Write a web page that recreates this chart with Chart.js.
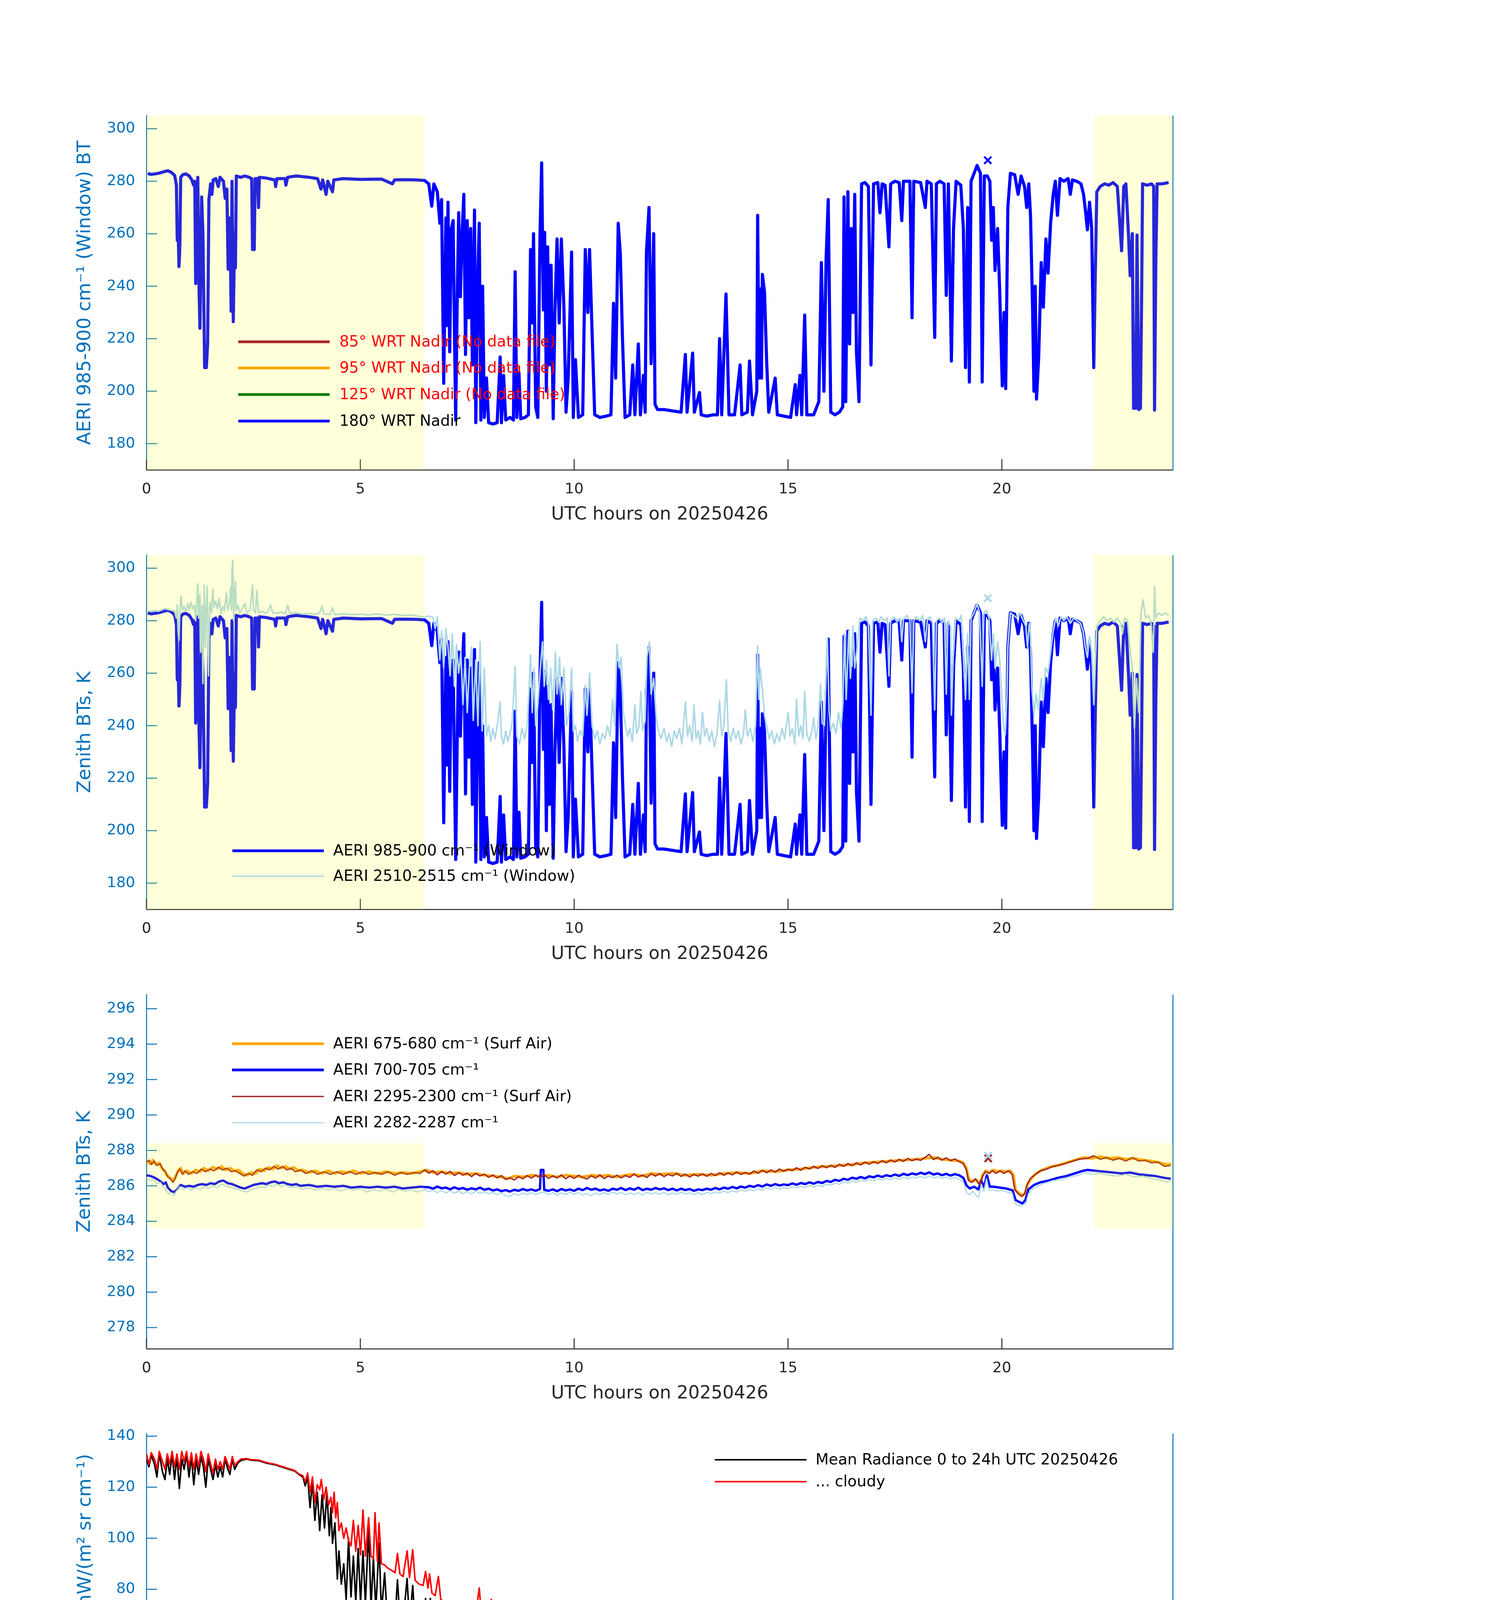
<!DOCTYPE html>
<html>
<head>
    <style>
        body {
            margin: 0;
            background: #ffffff;
        }

        #page {
            position: relative;
            width: 3825px;
            height: 6000px;
            background: #ffffff;
            overflow: hidden;
        }

        #page canvas {
            position: absolute;
            left: 0;
        }
    </style>
    <script src="https://cdn.jsdelivr.net/npm/chart.js"></script>
</head>
<body>
    <div id="page">
        <canvas id="p1"></canvas>
        <canvas id="p2"></canvas>
        <canvas id="p3"></canvas>
        <canvas id="p4"></canvas>
        <canvas id="p5"></canvas>
    </div>

    <script>
        // ---- values ----
        const hourTicks = [0, 5, 10, 15, 20];
        const btTicksWide = [180, 200, 220, 240, 260, 280, 300];
        const btTicksNarrow = [278, 280, 282, 284, 286, 288, 290, 292, 294, 296];
        const radTicksLow = [20, 40, 60, 80, 100, 120, 140];
        const wnTicksLow = [600, 800, 1000, 1200, 1400, 1600, 1800];
        const radTicksHigh = [0, 1, 2, 3, 4, 5, 6, 7, 8, 9];
        const wnTicksHigh = [1800, 2000, 2200, 2400, 2600, 2800, 3000];

        // night-time shading (UTC hours) and the band used in the third panel
        const shadeHours = [[0, 6.5], [22.15, 24]];
        const shadeBT = [283.6, 288.4];

        // AERI 985-900 cm-1 window BT, [hour, K]
        const bt985 = [
            [0.03,283.0],[0.1,282.6],[0.2,282.8],[0.3,283.1],[0.4,283.6],[0.5,284.0],[0.58,283.4],[0.66,282.2],
            [0.7,278.5],[0.72,257.5],[0.74,262],[0.76,247.5],[0.78,255],[0.8,281.5],[0.85,282.5],[0.92,282.8],
            [1.0,282.0],[1.06,280.5],[1.1,278.5],[1.13,280],[1.15,241],[1.18,250],[1.2,281.5],[1.22,246],
            [1.25,224],[1.27,250],[1.29,274],[1.32,260],[1.36,209],[1.4,209],[1.43,218],[1.46,273],[1.5,279],
            [1.53,275],[1.56,280.5],[1.62,281],[1.68,278],[1.72,281.5],[1.8,280],[1.84,273.5],[1.88,277],
            [1.91,246.5],[1.95,266],[1.98,230.5],[2.0,280],[2.03,226.5],[2.06,260],[2.08,247],[2.1,282],
            [2.2,281.5],[2.3,282],[2.4,281.5],[2.46,281],[2.48,254],[2.52,254],[2.54,281],[2.6,281],[2.62,270],
            [2.64,281.5],[2.8,281.2],[3.0,280.5],[3.02,278],[3.05,281],[3.24,281],[3.26,278.5],[3.3,281.5],
            [3.5,282],[3.8,281.5],[4.0,281],[4.08,277],[4.12,280.5],[4.2,275],[4.24,280],[4.35,276],[4.38,280.5],
            [4.6,281],[5.0,280.7],[5.5,280.8],[5.75,279],[5.8,280.5],[6.0,280.6],[6.3,280.5],[6.5,280.3],
            [6.6,279],[6.67,270.5],[6.72,279],[6.8,276],[6.86,264],[6.9,273],[6.95,203],[7.0,266],[7.02,225],
            [7.05,272],[7.09,215],[7.13,262],[7.17,265],[7.2,224],[7.23,189],[7.27,240],[7.3,268],[7.34,236],
            [7.38,260],[7.42,275],[7.46,214],[7.5,265],[7.54,228],[7.58,262],[7.62,210],[7.67,269],[7.7,188],
            [7.74,238],[7.78,264],[7.82,189],[7.86,240],[7.9,190],[7.95,205],[8.0,188],[8.1,187.5],[8.2,188],
            [8.27,213],[8.3,188],[8.35,206],[8.4,189],[8.5,190],[8.58,189],[8.62,245.5],[8.66,190],[8.71,207],
            [8.75,189.5],[8.85,190],[8.93,191],[8.98,254],[9.02,226],[9.05,260],[9.1,194],[9.15,190],
            [9.2,258.5],[9.24,287],[9.28,231],[9.31,260.5],[9.35,200],[9.38,255],[9.42,210],[9.46,248],
            [9.51,189.5],[9.55,230],[9.6,258],[9.65,226],[9.7,258],[9.76,232],[9.81,192],[9.86,205],[9.94,253],
            [9.98,190],[10.03,212],[10.1,190],[10.2,191],[10.26,254],[10.32,230],[10.36,254],[10.42,222],
            [10.48,191],[10.6,190],[10.75,190.5],[10.86,191],[10.92,233.5],[10.97,205],[11.03,264],[11.08,252],
            [11.13,220],[11.19,190],[11.3,191],[11.37,210],[11.42,191],[11.5,218],[11.55,191],[11.62,206],
            [11.66,192],[11.69,253],[11.75,270],[11.8,210.5],[11.86,260],[11.89,195],[11.95,193],[12.1,193],
            [12.3,192.5],[12.5,192],[12.6,214],[12.64,192],[12.77,214.5],[12.81,192],[12.93,199.5],[12.97,191],
            [13.1,190.5],[13.25,191],[13.35,191],[13.4,220],[13.45,191],[13.55,237],[13.58,218],[13.62,191],
            [13.75,191],[13.88,210],[13.92,191],[14.05,192],[14.1,211.5],[14.17,191],[14.27,200],[14.29,267],
            [14.32,205],[14.34,239],[14.38,205],[14.4,244.5],[14.45,238],[14.5,211.5],[14.55,192],[14.7,205],
            [14.75,191],[14.9,190.5],[15.06,190],[15.17,202.5],[15.2,191],[15.28,206],[15.32,191],[15.39,229],
            [15.44,191],[15.6,191],[15.72,196],[15.78,249],[15.84,200],[15.89,250],[15.94,273],[16.0,192],
            [16.1,191],[16.2,192],[16.28,194],[16.31,274],[16.35,196],[16.4,276],[16.44,218],[16.48,262],
            [16.52,230],[16.56,275],[16.6,215],[16.66,196],[16.72,279],[16.8,279.5],[16.88,278],[16.94,210],
            [17.0,279],[17.1,279.5],[17.15,268],[17.2,279],[17.27,278.5],[17.36,255],[17.4,279],[17.5,280],
            [17.6,279.5],[17.66,265],[17.7,280],[17.85,280],[17.9,228],[17.94,280],[18.1,279.5],[18.21,270],
            [18.25,280],[18.35,279],[18.43,220.5],[18.47,279],[18.55,280],[18.65,279],[18.7,236.5],[18.75,279],
            [18.82,211.5],[18.87,262],[18.93,280],[19.04,278.5],[19.1,262],[19.15,209],[19.2,270],[19.24,203.5],
            [19.28,280],[19.35,283],[19.42,286],[19.5,283],[19.54,203.5],[19.59,282],[19.66,282],[19.72,280],
            [19.76,257.5],[19.8,270],[19.84,246],[19.9,262],[19.95,238],[20.01,202],[20.05,230],[20.09,201],
            [20.14,270],[20.2,283],[20.3,282.5],[20.38,275],[20.45,282],[20.53,278],[20.58,270],[20.63,279],
            [20.67,267],[20.72,230],[20.75,200],[20.78,240],[20.81,197],[20.86,212.5],[20.92,249],[20.97,232],
            [21.03,258],[21.08,245],[21.14,264],[21.2,275],[21.25,280],[21.3,267],[21.36,281],[21.45,280],
            [21.55,281],[21.6,275],[21.65,280.5],[21.75,280],[21.85,279],[21.91,275],[21.96,268],[22.0,261.5],
            [22.05,272],[22.1,262],[22.15,209],[22.18,240],[22.22,276],[22.3,278],[22.4,279],[22.5,278.5],
            [22.6,279.5],[22.7,278],[22.8,253.5],[22.85,278],[22.9,279],[22.96,260],[23.0,244],[23.05,260],
            [23.08,193.5],[23.13,193.5],[23.16,259.5],[23.2,193],[23.24,193.5],[23.27,240],[23.29,279],
            [23.4,278.5],[23.5,279],[23.55,278],[23.57,192.8],[23.6,250],[23.63,279],[23.75,279],[23.9,279.5]
        ];

        // AERI 2510-2515 cm-1 window BT, [hour, K]
        const bt2510 = [
            [0.03,283.8],[0.12,283.5],[0.2,283.9],[0.28,283.6],[0.36,284.1],[0.44,284.6],[0.52,284.2],[0.6,283.9],
            [0.66,283.5],[0.7,281],[0.72,286],[0.74,276],[0.76,272.5],[0.78,284],[0.81,289.5],[0.84,284],
            [0.88,285.5],[0.92,283.5],[0.97,286.5],[1.0,284],[1.04,287],[1.08,284.5],[1.12,286],[1.15,280],
            [1.18,288],[1.2,294],[1.22,281],[1.25,290],[1.27,268],[1.3,286],[1.32,256],[1.35,293.5],[1.38,270],
            [1.4,285],[1.42,293],[1.45,259],[1.48,287],[1.52,283],[1.55,292],[1.58,285],[1.62,287.5],
            [1.66,284.5],[1.7,288.5],[1.74,282.5],[1.78,285.5],[1.82,283.5],[1.87,290.5],[1.9,284],[1.94,286.5],
            [1.97,293],[1.99,284],[2.0,299.5],[2.02,303],[2.04,280],[2.06,289],[2.08,295],[2.1,284],[2.14,286],
            [2.18,283],[2.24,284.5],[2.3,286.5],[2.35,283],[2.42,284],[2.48,293.5],[2.5,284],[2.55,283],
            [2.58,291.5],[2.62,283],[2.7,283.5],[2.8,282.8],[2.86,284],[2.9,286],[2.95,283],[3.05,282.8],
            [3.15,283.3],[3.25,282.6],[3.3,286],[3.35,282.8],[3.5,283],[3.65,282.5],[3.8,282.8],[3.95,282.4],
            [4.05,283],[4.1,285.5],[4.15,282.5],[4.3,282.4],[4.35,285],[4.4,282.3],[4.6,282.6],[4.8,282.3],
            [5.0,282.5],[5.2,282.2],[5.4,282.6],[5.6,282.1],[5.8,282.4],[6.0,282],[6.2,282.2],[6.4,281.6],
            [6.5,281.3],[6.6,281.8],[6.7,281.2],[6.75,277],[6.8,281.5],[6.86,265],[6.9,276],[6.95,262],[7.0,277],
            [7.05,270],[7.1,259],[7.15,275],[7.2,255],[7.25,271],[7.3,260],[7.35,268],[7.4,248],[7.45,266],
            [7.5,245],[7.55,262],[7.6,270],[7.64,242],[7.7,265],[7.75,240],[7.8,272],[7.85,238],[7.9,262],
            [7.95,236],[8.0,240],[8.05,234],[8.1,239],[8.15,235],[8.2,240],[8.27,249],[8.3,236],[8.35,233],
            [8.4,238],[8.45,234],[8.5,237],[8.55,241],[8.62,262.5],[8.66,236],[8.72,233],[8.78,239],[8.84,235],
            [8.9,240],[8.94,252],[8.98,267],[9.02,245],[9.06,262],[9.1,240],[9.15,248],[9.2,260],[9.26,272],
            [9.3,255],[9.35,265],[9.4,250],[9.45,262],[9.5,246],[9.56,268],[9.6,252],[9.66,266],[9.7,248],
            [9.76,262],[9.82,240],[9.88,245],[9.94,262],[9.98,238],[10.03,240],[10.08,234],[10.14,238],
            [10.2,236],[10.26,255.5],[10.3,244],[10.36,260],[10.42,240],[10.48,235],[10.54,238],[10.6,233],
            [10.66,237],[10.72,235],[10.78,240],[10.84,236],[10.9,250],[10.95,240],[11.0,271],[11.05,262],
            [11.1,266],[11.15,245],[11.2,240],[11.25,236],[11.3,239],[11.36,234],[11.42,248],[11.46,237],
            [11.52,240],[11.56,253],[11.6,238],[11.66,242],[11.7,266],[11.76,272],[11.8,252],[11.86,258],
            [11.92,243],[11.97,238],[12.03,235],[12.1,239],[12.16,234],[12.22,237],[12.28,232],[12.34,238],
            [12.4,235],[12.46,239],[12.52,233],[12.6,249],[12.65,236],[12.7,240],[12.76,234],[12.8,248],
            [12.85,235],[12.9,238],[12.95,233],[13.0,245],[13.05,236],[13.1,239],[13.16,234],[13.22,238],
            [13.28,232],[13.34,237],[13.4,249.5],[13.45,236],[13.5,240],[13.56,257.5],[13.6,238],[13.66,234],
            [13.72,239],[13.78,235],[13.84,238],[13.9,233],[13.96,237],[14.0,246],[14.05,236],[14.12,239],
            [14.18,234],[14.24,240],[14.29,270.5],[14.32,250],[14.35,262],[14.4,254],[14.45,244],[14.5,240],
            [14.56,235],[14.62,238],[14.68,233],[14.74,237],[14.8,234],[14.86,239],[14.92,235],[15.0,245],
            [15.05,236],[15.1,239],[15.16,233],[15.2,250],[15.25,236],[15.3,240],[15.35,235],[15.39,253],
            [15.44,237],[15.5,234],[15.56,238],[15.6,243],[15.65,235],[15.7,239],[15.76,256],[15.8,241],
            [15.85,240],[15.92,273.5],[15.96,246],[16.0,238],[16.06,241],[16.12,237],[16.18,245],[16.24,239],
            [16.28,248],[16.32,275],[16.36,250],[16.42,276],[16.46,258],[16.52,278],[16.56,262],[16.62,270],
            [16.68,281],[16.75,280],[16.82,281.5],[16.88,279],[16.94,244],[16.98,280],[17.05,281],[17.12,279.5],
            [17.18,281.5],[17.25,280],[17.32,281],[17.36,259],[17.4,280],[17.48,281.5],[17.55,279.5],[17.62,281],
            [17.66,272],[17.7,280.5],[17.78,282],[17.85,280],[17.9,252.5],[17.94,280],[18.0,281.5],[18.08,280],
            [18.15,282],[18.21,272],[18.26,280.5],[18.32,281.5],[18.38,279],[18.43,246],[18.47,280],[18.54,281],
            [18.6,279],[18.66,281],[18.7,252],[18.74,280],[18.8,278],[18.82,244],[18.86,265],[18.92,281],
            [19.0,280],[19.05,282],[19.1,266],[19.15,250],[19.2,275],[19.24,250],[19.28,281],[19.35,283],
            [19.42,286.5],[19.48,283],[19.54,255],[19.58,283],[19.64,284],[19.7,281],[19.76,265],[19.8,275],
            [19.84,262],[19.9,272],[19.95,265],[20.0,250],[20.04,240],[20.08,236.5],[20.12,252],[20.14,270],
            [20.2,283],[20.28,282],[20.35,281],[20.42,283],[20.5,280],[20.56,278],[20.6,270],[20.64,279],
            [20.67,275],[20.7,255],[20.75,244],[20.8,252],[20.86,246],[20.92,258],[20.97,250],[21.02,262],
            [21.08,260],[21.14,268],[21.2,276],[21.26,281],[21.32,278],[21.38,281.5],[21.45,280],[21.52,281.5],
            [21.6,279],[21.68,281],[21.76,280],[21.84,279],[21.9,276],[21.95,270],[22.0,266],[22.05,274],
            [22.1,268],[22.15,248],[22.18,262],[22.22,278],[22.3,280],[22.38,281.5],[22.46,280],[22.54,281],
            [22.62,279.5],[22.7,281],[22.78,279],[22.82,275],[22.87,281],[22.94,280],[23.0,268],[23.05,262],
            [23.1,239],[23.15,258],[23.2,245],[23.25,282],[23.3,288],[23.36,281],[23.42,282],[23.48,280],
            [23.54,268],[23.57,293],[23.6,281],[23.66,283],[23.74,282],[23.82,283],[23.9,282]
        ];

        // flagged samples drawn as x markers
        const flag985 = [[19.67, 288.0]];
        const flag2510 = [[19.67, 288.6]];
        const flag2295 = [[19.68, 287.55]];
        const flag2282 = [[19.68, 287.7]];

        // AERI 675-680 cm-1 (surface air), [hour, K]
        const bt675 = [
            [0,287.4],[0.08,287.25],[0.15,287.45],[0.22,287.2],[0.3,287.3],[0.36,287.0],[0.42,286.85],[0.48,286.6],
            [0.55,286.45],[0.62,286.3],[0.68,286.5],[0.74,286.85],[0.8,287.0],[0.86,286.7],[0.95,286.85],
            [1.05,286.7],[1.15,286.9],[1.25,286.8],[1.35,287.0],[1.45,286.85],[1.55,287.05],[1.65,286.95],
            [1.75,287.1],[1.85,286.9],[1.95,287.0],[2.05,286.85],[2.15,286.9],[2.25,286.7],[2.35,286.6],
            [2.45,286.75],[2.55,286.7],[2.65,286.95],[2.75,286.85],[2.85,287.05],[2.95,286.95],[3.05,287.15],
            [3.15,287.0],[3.25,287.1],[3.35,286.95],[3.45,287.05],[3.55,286.85],[3.65,286.9],[3.8,286.75],
            [3.95,286.85],[4.1,286.7],[4.25,286.85],[4.4,286.7],[4.55,286.8],[4.7,286.75],[4.85,286.85],
            [5.0,286.7],[5.2,286.8],[5.4,286.7],[5.6,286.8],[5.8,286.7],[6.0,286.75],[6.2,286.7],[6.4,286.8],
            [6.55,286.9],[6.7,286.75],[6.9,286.8],[7.1,286.7],[7.3,286.75],[7.5,286.65],[7.7,286.7],[7.9,286.6],
            [8.1,286.55],[8.3,286.5],[8.45,286.4],[8.6,286.55],[8.8,286.5],[9.0,286.6],[9.2,286.55],[9.4,286.6],
            [9.6,286.5],[9.8,286.6],[10.0,286.55],[10.2,286.5],[10.4,286.6],[10.6,286.55],[10.8,286.6],
            [11.0,286.5],[11.2,286.6],[11.4,286.65],[11.6,286.55],[11.8,286.7],[12.0,286.65],[12.3,286.7],
            [12.6,286.6],[12.9,286.65],[13.2,286.6],[13.5,286.7],[13.8,286.75],[14.1,286.7],[14.4,286.85],
            [14.7,286.8],[15.0,286.9],[15.3,286.95],[15.6,287.05],[15.9,287.1],[16.2,287.15],[16.5,287.2],
            [16.8,287.3],[17.1,287.35],[17.4,287.4],[17.7,287.45],[18.0,287.5],[18.2,287.55],[18.4,287.6],
            [18.6,287.5],[18.8,287.45],[19.0,287.4],[19.1,287.3],[19.17,287.0],[19.22,286.4],[19.3,286.25],
            [19.4,286.35],[19.48,286.1],[19.55,286.6],[19.62,286.85],[19.7,286.75],[19.8,286.9],[19.9,286.8],
            [20.0,286.85],[20.1,286.8],[20.2,286.85],[20.27,286.6],[20.32,285.75],[20.4,285.6],[20.48,285.45],
            [20.55,285.6],[20.6,286.1],[20.7,286.45],[20.8,286.7],[20.95,286.9],[21.1,287.05],[21.3,287.15],
            [21.5,287.3],[21.7,287.45],[21.9,287.6],[22.1,287.55],[22.3,287.65],[22.5,287.55],[22.7,287.6],
            [22.9,287.5],[23.1,287.55],[23.3,287.45],[23.5,287.4],[23.7,287.3],[23.85,287.2],[23.95,287.25]
        ];

        // AERI 700-705 cm-1, [hour, K]
        const bt700 = [
            [0,286.6],[0.1,286.55],[0.2,286.45],[0.3,286.3],[0.4,286.1],[0.45,286.2],[0.5,285.9],[0.58,285.7],
            [0.65,285.65],[0.72,285.8],[0.8,286.05],[0.9,285.95],[1.0,286.0],[1.1,285.95],[1.2,286.05],[1.3,286.1],
            [1.4,286.05],[1.5,286.15],[1.6,286.1],[1.7,286.25],[1.8,286.3],[1.9,286.15],[2.0,286.1],[2.1,286.0],
            [2.2,285.9],[2.3,285.85],[2.4,285.95],[2.5,286.05],[2.6,286.1],[2.7,286.15],[2.8,286.1],[2.9,286.2],
            [3.0,286.25],[3.1,286.15],[3.2,286.2],[3.3,286.1],[3.4,286.05],[3.5,286.1],[3.6,286.0],[3.8,286.05],
            [4.0,285.95],[4.2,286.0],[4.4,285.95],[4.6,286.0],[4.8,285.9],[5.0,285.95],[5.2,285.9],[5.4,285.95],
            [5.6,285.9],[5.8,285.95],[6.0,285.85],[6.2,285.9],[6.4,285.95],[6.6,285.92],[6.7,285.84],[6.8,285.96],
            [6.9,285.86],[7.0,285.9],[7.1,285.8],[7.2,285.92],[7.3,285.82],[7.4,285.88],[7.5,285.78],[7.6,285.86],
            [7.7,285.8],[7.8,285.9],[7.9,285.78],[8.0,285.84],[8.1,285.74],[8.2,285.8],[8.3,285.7],[8.4,285.76],
            [8.5,285.68],[8.6,285.78],[8.7,285.72],[8.8,285.82],[8.9,285.74],[9.0,285.8],[9.1,285.72],[9.2,285.82],
            [9.22,286.9],[9.28,286.9],[9.3,285.78],[9.4,285.72],[9.5,285.8],[9.6,285.7],[9.7,285.82],[9.8,285.74],
            [9.9,285.8],[10.0,285.72],[10.1,285.84],[10.2,285.76],[10.3,285.88],[10.4,285.78],[10.5,285.84],
            [10.6,285.74],[10.7,285.8],[10.8,285.72],[10.9,285.84],[11.0,285.78],[11.1,285.88],[11.2,285.76],
            [11.3,285.86],[11.4,285.78],[11.5,285.9],[11.6,285.76],[11.7,285.84],[11.8,285.78],[11.9,285.88],
            [12.0,285.8],[12.1,285.86],[12.2,285.76],[12.3,285.84],[12.4,285.74],[12.5,285.84],[12.6,285.76],
            [12.7,285.82],[12.8,285.72],[12.9,285.8],[13.0,285.76],[13.1,285.84],[13.2,285.78],[13.3,285.88],
            [13.4,285.8],[13.5,285.9],[13.6,285.84],[13.7,285.94],[13.8,285.86],[13.9,285.96],[14.0,285.9],
            [14.1,286.0],[14.2,285.94],[14.3,286.04],[14.4,285.96],[14.5,286.08],[14.6,286.0],[14.7,286.1],
            [14.8,286.02],[14.9,286.08],[15.0,286.04],[15.1,286.14],[15.2,286.06],[15.3,286.16],[15.4,286.1],
            [15.5,286.2],[15.6,286.12],[15.7,286.22],[15.8,286.16],[15.9,286.28],[16.0,286.22],[16.1,286.34],
            [16.2,286.28],[16.3,286.4],[16.4,286.34],[16.5,286.46],[16.6,286.4],[16.7,286.5],[16.8,286.42],
            [16.9,286.54],[17.0,286.48],[17.1,286.58],[17.2,286.5],[17.3,286.6],[17.4,286.54],[17.5,286.64],
            [17.6,286.56],[17.7,286.68],[17.8,286.6],[17.9,286.7],[18.0,286.64],[18.1,286.74],[18.2,286.66],
            [18.3,286.76],[18.4,286.64],[18.5,286.7],[18.6,286.6],[18.7,286.68],[18.8,286.58],[18.9,286.66],
            [19.0,286.6],[19.1,286.45],[19.18,286.0],[19.25,285.85],[19.35,285.95],[19.45,285.8],[19.52,286.3],
            [19.58,285.9],[19.65,286.6],[19.72,285.95],[19.8,285.95],[19.95,285.9],[20.1,285.85],[20.25,285.75],
            [20.32,285.2],[20.4,285.1],[20.48,285.0],[20.55,285.2],[20.62,285.8],[20.75,286.05],[20.9,286.2],
            [21.1,286.3],[21.3,286.45],[21.5,286.55],[21.7,286.7],[21.9,286.85],[22.0,286.9],[22.2,286.85],
            [22.4,286.8],[22.6,286.75],[22.8,286.7],[23.0,286.75],[23.2,286.65],[23.4,286.6],[23.6,286.55],
            [23.8,286.45],[23.95,286.4]
        ];

        // AERI 2295-2300 cm-1 (surface air), [hour, K]
        const bt2295 = [
            [0,287.35],[0.06,287.45],[0.12,287.2],[0.18,287.4],[0.25,287.15],[0.32,287.25],[0.38,286.95],[0.44,286.8],
            [0.5,286.5],[0.56,286.4],[0.62,286.2],[0.66,286.35],[0.72,286.75],[0.78,286.95],[0.84,286.65],
            [0.9,286.85],[0.98,286.65],[1.08,286.8],[1.18,286.7],[1.28,286.95],[1.38,286.8],[1.48,286.95],
            [1.58,286.85],[1.68,287.05],[1.78,286.9],[1.88,287.0],[1.98,286.8],[2.08,286.85],[2.18,286.7],
            [2.28,286.55],[2.38,286.7],[2.48,286.6],[2.58,286.9],[2.68,286.8],[2.78,287.0],[2.88,286.9],
            [2.98,287.1],[3.08,286.95],[3.18,287.1],[3.28,286.9],[3.38,287.0],[3.48,286.8],[3.6,286.9],
            [3.72,286.7],[3.86,286.85],[4.0,286.65],[4.15,286.8],[4.3,286.65],[4.45,286.8],[4.6,286.65],
            [4.75,286.8],[4.9,286.65],[5.05,286.8],[5.2,286.65],[5.35,286.75],[5.5,286.65],[5.65,286.8],
            [5.8,286.6],[5.95,286.75],[6.1,286.65],[6.25,286.75],[6.4,286.7],[6.5,286.9],[6.6,286.72],
            [6.7,286.85],[6.8,286.62],[6.9,286.8],[7.0,286.66],[7.1,286.82],[7.2,286.58],[7.3,286.74],[7.4,286.6],
            [7.5,286.72],[7.6,286.52],[7.7,286.7],[7.8,286.56],[7.9,286.66],[8.0,286.48],[8.1,286.62],[8.2,286.45],
            [8.3,286.58],[8.4,286.36],[8.5,286.46],[8.6,286.33],[8.7,286.52],[8.8,286.4],[8.9,286.58],[9.0,286.44],
            [9.1,286.6],[9.2,286.46],[9.3,286.63],[9.4,286.42],[9.5,286.56],[9.6,286.45],[9.7,286.62],[9.8,286.4],
            [9.9,286.55],[10.0,286.42],[10.1,286.6],[10.2,286.47],[10.3,286.38],[10.4,286.57],[10.5,286.44],
            [10.6,286.62],[10.7,286.41],[10.8,286.55],[10.9,286.46],[11.0,286.6],[11.1,286.45],[11.2,286.58],
            [11.3,286.48],[11.4,286.66],[11.5,286.5],[11.6,286.62],[11.7,286.47],[11.8,286.68],[11.9,286.55],
            [12.0,286.7],[12.1,286.52],[12.2,286.65],[12.3,286.56],[12.4,286.72],[12.5,286.53],[12.6,286.66],
            [12.7,286.5],[12.8,286.64],[12.9,286.55],[13.0,286.68],[13.1,286.54],[13.2,286.7],[13.3,286.58],
            [13.4,286.74],[13.5,286.6],[13.6,286.72],[13.7,286.62],[13.8,286.78],[13.9,286.64],[14.0,286.76],
            [14.1,286.66],[14.2,286.84],[14.3,286.7],[14.4,286.88],[14.5,286.74],[14.6,286.9],[14.7,286.78],
            [14.8,286.95],[14.9,286.82],[15.0,286.94],[15.1,286.86],[15.2,287.02],[15.3,286.88],[15.4,287.05],
            [15.5,286.95],[15.6,287.1],[15.7,286.98],[15.8,287.14],[15.9,287.02],[16.0,287.16],[16.1,287.04],
            [16.2,287.22],[16.3,287.1],[16.4,287.26],[16.5,287.14],[16.6,287.3],[16.7,287.18],[16.8,287.34],
            [16.9,287.22],[17.0,287.36],[17.1,287.26],[17.2,287.42],[17.3,287.3],[17.4,287.46],[17.5,287.35],
            [17.6,287.5],[17.7,287.38],[17.8,287.55],[17.9,287.42],[18.0,287.52],[18.1,287.44],[18.2,287.6],
            [18.3,287.78],[18.4,287.48],[18.5,287.62],[18.6,287.45],[18.7,287.58],[18.8,287.42],[18.9,287.52],
            [19.0,287.38],[19.1,287.25],[19.17,286.9],[19.22,286.3],[19.3,286.2],[19.38,286.4],[19.45,286.15],
            [19.5,286.05],[19.55,286.55],[19.62,286.8],[19.7,286.7],[19.78,286.85],[19.86,286.7],[19.95,286.85],
            [20.05,286.7],[20.15,286.85],[20.24,286.65],[20.3,285.8],[20.38,285.55],[20.46,285.4],[20.53,285.55],
            [20.58,286.0],[20.66,286.4],[20.76,286.6],[20.9,286.85],[21.05,286.95],[21.2,287.1],[21.4,287.2],
            [21.6,287.35],[21.8,287.5],[22.0,287.55],[22.15,287.7],[22.3,287.5],[22.45,287.6],[22.6,287.45],
            [22.75,287.55],[22.9,287.4],[23.05,287.6],[23.2,287.4],[23.35,287.45],[23.5,287.3],[23.65,287.35],
            [23.8,287.1],[23.95,287.15]
        ];

        // AERI 2282-2287 cm-1, [hour, K]
        const bt2282 = [
            [0,286.45],[0.08,286.3],[0.16,286.35],[0.24,286.1],[0.32,286.2],[0.4,285.95],[0.46,285.75],[0.52,285.55],
            [0.58,285.6],[0.64,285.45],[0.7,285.7],[0.78,285.95],[0.86,285.8],[0.95,285.9],[1.05,285.75],
            [1.15,285.9],[1.25,285.8],[1.35,285.95],[1.45,285.85],[1.55,286.0],[1.65,285.9],[1.75,286.1],
            [1.85,286.0],[1.95,285.95],[2.05,285.85],[2.15,285.8],[2.25,285.7],[2.35,285.65],[2.45,285.8],
            [2.55,285.85],[2.65,285.95],[2.75,285.9],[2.85,286.05],[2.95,285.95],[3.05,286.1],[3.15,285.95],
            [3.25,286.05],[3.35,285.9],[3.5,285.95],[3.65,285.8],[3.8,285.9],[3.95,285.75],[4.1,285.85],
            [4.25,285.75],[4.4,285.85],[4.55,285.7],[4.7,285.85],[4.85,285.75],[5.0,285.85],[5.15,285.65],
            [5.3,285.8],[5.45,285.7],[5.6,285.8],[5.75,285.65],[5.9,285.8],[6.05,285.7],[6.2,285.75],
            [6.35,285.65],[6.5,285.8],[6.6,285.66],[6.7,285.76],[6.8,285.62],[6.9,285.74],[7.0,285.6],[7.1,285.72],
            [7.2,285.58],[7.3,285.7],[7.4,285.56],[7.5,285.68],[7.6,285.54],[7.7,285.7],[7.8,285.58],[7.9,285.66],
            [8.0,285.54],[8.1,285.64],[8.2,285.5],[8.3,285.62],[8.4,285.44],[8.5,285.4],[8.6,285.56],[8.7,285.46],
            [8.8,285.6],[8.9,285.5],[9.0,285.62],[9.1,285.5],[9.2,285.6],[9.3,285.66],[9.4,285.5],[9.5,285.62],
            [9.6,285.48],[9.7,285.6],[9.8,285.5],[9.9,285.64],[10.0,285.52],[10.1,285.62],[10.2,285.48],
            [10.3,285.58],[10.4,285.44],[10.5,285.6],[10.6,285.5],[10.7,285.62],[10.8,285.52],[10.9,285.64],
            [11.0,285.54],[11.1,285.64],[11.2,285.5],[11.3,285.6],[11.4,285.5],[11.5,285.62],[11.6,285.48],
            [11.7,285.64],[11.8,285.54],[11.9,285.62],[12.0,285.52],[12.1,285.64],[12.2,285.5],[12.3,285.6],
            [12.4,285.52],[12.5,285.64],[12.6,285.54],[12.7,285.6],[12.8,285.5],[12.9,285.62],[13.0,285.5],
            [13.1,285.64],[13.2,285.56],[13.3,285.66],[13.4,285.58],[13.5,285.7],[13.6,285.62],[13.7,285.72],
            [13.8,285.64],[13.9,285.76],[14.0,285.7],[14.1,285.8],[14.2,285.72],[14.3,285.84],[14.4,285.76],
            [14.5,285.88],[14.6,285.8],[14.7,285.9],[14.8,285.82],[14.9,285.92],[15.0,285.84],[15.1,285.96],
            [15.2,285.88],[15.3,285.98],[15.4,285.9],[15.5,286.02],[15.6,285.94],[15.7,286.04],[15.8,285.96],
            [15.9,286.1],[16.0,286.04],[16.1,286.16],[16.2,286.08],[16.3,286.22],[16.4,286.16],[16.5,286.28],
            [16.6,286.2],[16.7,286.32],[16.8,286.26],[16.9,286.36],[17.0,286.28],[17.1,286.4],[17.2,286.32],
            [17.3,286.42],[17.4,286.34],[17.5,286.46],[17.6,286.38],[17.7,286.48],[17.8,286.4],[17.9,286.5],
            [18.0,286.44],[18.1,286.54],[18.2,286.44],[18.3,286.56],[18.4,286.46],[18.5,286.52],[18.6,286.42],
            [18.7,286.5],[18.8,286.4],[18.9,286.48],[19.0,286.4],[19.1,286.2],[19.18,285.6],[19.25,285.5],
            [19.32,285.7],[19.4,285.45],[19.46,285.35],[19.52,286.1],[19.58,285.7],[19.64,286.4],[19.7,285.75],
            [19.78,285.8],[19.88,285.7],[20.0,285.75],[20.12,285.65],[20.24,285.6],[20.3,285.05],[20.36,284.9],
            [20.44,284.85],[20.5,284.95],[20.56,285.0],[20.62,285.55],[20.72,285.85],[20.85,286.0],[21.0,286.15],
            [21.2,286.3],[21.4,286.35],[21.6,286.5],[21.8,286.6],[21.95,286.75],[22.1,286.65],[22.3,286.7],
            [22.5,286.6],[22.7,286.55],[22.9,286.65],[23.1,286.5],[23.3,286.55],[23.5,286.4],[23.7,286.35],
            [23.85,286.2],[23.95,286.3]
        ];

        // mean radiance 520-1800 cm-1, cloudy samples, [wavenumber, mW/(m2 sr cm-1)]
        const radCloudyLow = [
            [520,133],[523,129],[526,133.5],[530,131],[533,127],[536,134],[540,130],[543,127],[546,133],[549,129],
            [552,134],[555,128],[558,133],[561,127],[564,134],[567,130],[570,134],[573,128],[576,133.5],[579,127],
            [582,133],[585,128],[588,134],[591,131],[594,126],[597,133],[600,129],[603,125.5],[606,131],[609,127],
            [612,130],[615,127],[618,132],[621,129.5],[624,127],[627,132],[630,128.5],[634,130],[638,131],
            [645,131.2],[650,130.8],[660,130.6],[670,129.6],[680,129],[690,128],[700,127],[705,126.5],[710,125.2],
            [715,124.5],[718,122],[721,125.5],[724,118],[727,124],[730,114],[733,121],[736,119],[738,123],
            [741,115],[744,120],[747,113],[750,116],[752,110],[754,118],[756,108],[758,114],[760,103],[763,106],
            [766,100],[769,104],[772,99],[775,97],[778,107],[781,95],[784,105],[787,93.5],[790,111],[793,93],
            [797,108],[800,93],[803,92],[805,110],[808,91],[810,106],[813,90],[817,89.5],[820,88.5],[825,87.5],
            [830,86.5],[833,94],[836,86],[840,85],[845,95],[848,84.5],[852,95.5],[855,83.5],[860,82],[865,81.5],
            [868,87],[871,80.5],[873,86],[876,78.5],[880,77.5],[884,85],[887,76],[892,75],[899,74],[905,72.5],
            [912,71.5],[918,70.5],[923,70],[930,69],[935,80.5],[938,68],[944,67],[950,76],[953,66],[958,65.5],
            [962,73],[965,64.5],[970,64],[976,63],[982,62],[988,61],[993,60.5],[1000,65],[1003,59.5],[1010,58.8],
            [1015,65],[1018,58.2],[1025,57.5],[1032,56.8],[1039,56.3],[1045,55],[1050,54],[1055,53.5],[1062,53],
            [1065,61.5],[1068,52],[1075,59],[1078,50],[1086,48.7],[1092,48],[1097,57],[1100,47],[1103,57],
            [1106,46.5],[1110,57],[1114,46],[1120,54.6],[1124,44.5],[1132,43.5],[1135,56],[1138,43],[1145,42.5],
            [1150,54.4],[1153,42],[1160,41],[1165,50.3],[1168,40.5],[1175,53],[1178,40],[1185,52.8],[1188,39.5],
            [1195,48.7],[1199,38.5],[1207,47],[1210,37.5],[1215,48],[1218,37],[1225,47.6],[1228,36],[1233,35.8],
            [1238,40],[1242,36],[1245,43.9],[1250,37],[1255,39],[1260,42.8],[1263,38],[1268,41.5],[1272,36],
            [1276,39],[1280,36.3],[1285,35],[1290,38],[1295,35.5],[1300,37],[1305,35.8],[1310,37],[1317,36.3],
            [1322,33.5],[1328,35],[1334,32],[1340,33.1],[1345,32.5],[1350,32],[1355,31.5],[1360,32.5],
            [1365,31.6],[1373,31.5],[1380,30.8],[1390,30.2],[1396,29.9],[1405,29.2],[1412,28.8],[1419,28.3],
            [1430,27.3],[1438,26.6],[1440,28.8],[1442,26.3],[1450,25.6],[1465,24.6],[1480,23.8],[1489,23.4],
            [1500,22.5],[1515,21.5],[1530,20.6],[1536,20.2],[1537,27.8],[1538,20],[1545,19.6],[1560,18.5],
            [1574,17.3],[1575,24],[1576,17.1],[1583,17],[1600,15.7],[1615,15.1],[1629,14.3],[1648,13.5],
            [1650,19.7],[1652,13.4],[1660,13.2],[1676,12.7],[1690,12],[1699,11.6],[1700,17.5],[1701,11.5],
            [1705,17],[1706,11.4],[1715,11],[1721,10.7],[1722,15.3],[1723,10.6],[1740,9.9],[1755,9.4],
            [1769,8.9],[1785,8.6],[1800,8.3]
        ];

        // mean radiance 520-1800 cm-1, all samples (below 1345 cm-1; above it the curves coincide)
        const radAllLowHead = [
            [520,131],[523,128],[526,132.5],[530,129],[533,124],[536,133],[540,126],[543,123],[546,131],[549,125],
            [552,133],[555,123],[558,132],[561,119.5],[564,131],[567,127],[570,133],[573,124],[576,132],[579,121],
            [582,131],[585,125],[588,132],[591,128],[594,120],[597,131],[600,127],[603,123],[606,129],[609,124],
            [612,128],[615,124],[618,131],[621,127.5],[624,125],[627,131],[630,127],[634,129.5],[638,130.5],
            [645,131],[650,130.6],[660,130.4],[670,129.4],[680,128.8],[690,127.8],[700,126.8],[705,126.3],
            [710,125],[715,124],[718,120.5],[721,124],[724,112],[727,122],[730,107],[733,118],[736,103],[739,117],
            [742,104],[745,118],[748,101],[750,112],[752,98],[755,106],[758,84],[760,95],[763,82],[766,90],
            [769,76],[772,100],[775,77],[778,93],[781,75],[784,96],[787,74.5],[790,95],[793,74],[797,104],
            [800,73],[803,92],[806,72],[810,98],[813,71],[817,86.4],[820,70],[825,69],[830,68.5],[833,83.7],
            [836,68],[840,67.5],[845,84.2],[848,66.5],[852,81.5],[855,66],[860,65],[865,64.5],[868,76.4],[871,64],
            [874,76.4],[877,63],[880,62],[885,75.1],[888,61],[892,60],[899,59],[905,58],[912,57],[918,56.5],
            [925,55.5],[930,54.5],[935,71.3],[938,54],[944,53],[950,65.4],[953,52.5],[958,52],[962,63.8],[965,51],
            [970,50.5],[976,49],[982,48],[988,47],[993,46.5],[1000,45.5],[1005,45],[1010,45.3],[1015,45],
            [1020,57.3],[1023,45.5],[1027,46],[1030,52.5],[1033,46],[1040,45.5],[1045,46],[1048,43],[1052,44.5],
            [1055,41],[1060,42.5],[1065,47],[1068,38.5],[1072,37.5],[1075,49.8],[1078,36.5],[1085,35.5],[1090,35],
            [1097,48],[1100,34.5],[1103,47],[1106,34],[1110,47],[1114,33.5],[1120,45],[1124,33.2],[1130,33],
            [1135,44],[1138,32.8],[1145,32.6],[1150,45],[1153,32.5],[1160,31.5],[1165,42],[1168,31],[1175,43],
            [1178,30.5],[1185,48],[1188,30],[1195,44],[1199,29],[1207,46],[1210,27.5],[1215,41],[1218,27.2],
            [1225,46],[1228,28],[1233,26],[1236,25],[1240,28],[1245,33],[1250,29],[1255,36],[1258,30],[1262,35.8],
            [1266,31],[1270,33],[1275,30],[1280,37],[1285,31],[1290,35],[1295,32],[1300,33.5],[1305,31],[1310,34],
            [1317,33],[1322,29],[1328,33],[1332,29.5],[1336,31.5],[1340,33]
        ];
        const radAllLow = radAllLowHead.concat(radCloudyLow.filter(p => p[0] >= 1345));

        // mean radiance 1800-3020 cm-1, cloudy samples
        const radCloudyHigh = [
            [1800,8.6],[1802,8.3],[1805,8.03],[1808,8.2],[1810,8.15],[1813,7.55],[1816,7.9],[1818,7.92],[1820,7.4],
            [1823,7.6],[1825,7.73],[1828,7.7],[1830,7.62],[1833,7.5],[1836,7.24],[1840,7.31],[1843,7.2],[1845,7.13],
            [1848,7.28],[1850,7.24],[1853,6.9],[1855,6.56],[1858,6.41],[1860,6.6],[1862,6.86],[1864,6.5],[1866,6.33],
            [1868,6.6],[1870,6.71],[1873,6.6],[1875,6.48],[1878,6.1],[1880,5.8],[1883,6.0],[1885,6.18],[1888,5.58],
            [1890,5.9],[1892,6.26],[1894,6.0],[1896,5.8],[1898,5.9],[1900,6.03],[1903,5.6],[1905,5.2],[1908,5.5],
            [1910,5.73],[1913,5.5],[1915,5.27],[1918,5.4],[1920,5.54],[1923,5.3],[1925,5.12],[1928,4.85],[1930,4.67],
            [1932,5.0],[1935,5.2],[1938,4.8],[1940,4.52],[1943,4.9],[1945,5.12],[1948,4.8],[1950,4.6],[1953,4.75],
            [1955,4.9],[1958,4.5],[1960,4.29],[1963,4.55],[1965,4.74],[1968,4.45],[1970,4.29],[1973,3.9],[1975,3.54],
            [1978,3.4],[1980,3.38],[1983,3.35],[1985,3.31],[1988,3.45],[1990,3.54],[1993,4.37],[1996,4.1],
            [1998,4.14],[2000,3.6],[2003,3.08],[2006,3.05],[2008,3.0],[2010,3.5],[2012,3.91],[2014,3.3],[2016,3.0],
            [2018,3.5],[2020,3.87],[2023,3.2],[2025,2.93],[2028,3.3],[2030,3.69],[2033,3.0],[2035,2.63],[2038,2.9],
            [2040,3.16],[2043,2.8],[2045,2.63],[2048,3.1],[2050,3.46],[2053,2.8],[2055,2.55],[2058,2.6],[2060,2.63],
            [2063,3.0],[2065,3.23],[2068,2.7],[2070,2.48],[2073,2.9],[2075,3.31],[2078,2.7],[2080,2.4],[2083,2.8],
            [2085,3.0],[2088,2.5],[2090,2.25],[2093,2.6],[2095,2.85],[2098,2.4],[2100,2.17],[2103,2.5],[2105,2.78],
            [2108,2.3],[2110,2.02],[2113,2.3],[2115,2.48],[2118,2.1],[2120,1.91],[2123,2.2],[2125,2.4],[2128,2.0],
            [2130,1.87],[2133,2.0],[2135,2.17],[2138,1.9],[2140,1.8],[2143,2.0],[2145,2.25],[2148,1.85],[2150,1.72],
            [2153,1.9],[2155,2.14],[2158,1.75],[2160,1.65],[2163,1.8],[2165,1.95],[2168,1.65],[2170,1.57],
            [2175,1.6],[2180,1.53],[2184,1.65],[2188,1.55],[2192,1.62],[2196,1.58],[2200,1.65],[2205,1.68],
            [2210,1.61],[2215,1.53],[2218,1.48],[2222,1.42],[2226,1.5],[2230,1.57],[2235,1.62],[2240,1.65],
            [2250,1.66],[2260,1.65],[2270,1.6],[2280,1.53],[2290,1.5],[2300,1.46],[2320,1.39],[2340,1.31],
            [2360,1.23],[2375,1.16],[2380,1.12],[2384,1.04],[2388,0.93],[2392,0.78],[2396,0.7],[2400,0.68],
            [2413,0.63],[2430,0.59],[2457,0.53],[2480,0.49],[2502,0.45],[2525,0.41],[2546,0.38],[2575,0.34],
            [2600,0.31],[2640,0.27],[2679,0.23],[2720,0.2],[2768,0.18],[2810,0.15],[2857,0.12],[2900,0.1],
            [2946,0.08],[2980,0.075],[3020,0.07]
        ];

        // mean radiance 1800-3020 cm-1, all samples
        const radAllHigh = [
            [1800,8.5],[1802,8.25],[1805,7.98],[1808,8.1],[1810,8.05],[1813,7.45],[1816,7.8],[1818,7.85],[1820,7.32],
            [1823,7.5],[1825,7.68],[1828,7.62],[1830,7.55],[1833,7.4],[1836,7.18],[1840,7.25],[1843,7.12],[1845,7.08],
            [1848,7.2],[1850,7.18],[1853,6.8],[1855,6.45],[1858,6.3],[1860,6.5],[1862,6.78],[1864,6.4],[1866,6.25],
            [1868,6.5],[1870,6.65],[1873,6.5],[1875,6.4],[1878,6.0],[1880,5.7],[1883,5.9],[1885,6.1],[1888,5.42],
            [1890,5.8],[1892,6.2],[1894,5.9],[1896,5.75],[1898,5.85],[1900,5.95],[1903,5.3],[1905,4.82],[1908,5.3],
            [1910,5.65],[1913,5.35],[1915,5.18],[1918,5.3],[1920,5.45],[1923,5.1],[1925,4.85],[1928,4.4],[1930,4.05],
            [1932,4.6],[1935,4.5],[1938,4.0],[1940,4.0],[1943,4.6],[1945,5.0],[1948,4.6],[1950,4.3],[1953,4.5],
            [1955,4.7],[1958,4.0],[1960,3.45],[1963,4.1],[1965,4.5],[1968,3.7],[1970,3.4],[1973,3.1],[1975,2.95],
            [1978,2.85],[1980,2.85],[1983,2.7],[1985,2.62],[1988,2.9],[1990,3.3],[1993,4.3],[1996,3.9],[1998,3.9],
            [2000,3.0],[2003,2.45],[2006,2.4],[2008,2.35],[2010,2.8],[2012,3.1],[2014,2.6],[2016,2.45],[2018,2.9],
            [2020,3.4],[2023,2.6],[2025,2.3],[2028,2.7],[2030,3.5],[2033,2.4],[2035,2.1],[2038,2.3],[2040,2.05],
            [2043,2.0],[2045,2.05],[2048,2.6],[2050,2.9],[2053,2.1],[2055,1.95],[2058,2.0],[2060,2.3],[2063,1.95],
            [2065,1.9],[2068,1.95],[2070,1.9],[2073,2.1],[2075,2.5],[2078,1.85],[2080,1.75],[2083,1.95],[2085,2.2],
            [2088,1.7],[2090,1.6],[2093,1.9],[2095,2.1],[2098,1.6],[2100,1.5],[2103,1.75],[2105,2.0],[2108,1.55],
            [2110,1.45],[2113,1.6],[2115,1.75],[2118,1.45],[2120,1.4],[2123,1.55],[2125,1.7],[2128,1.35],[2130,1.3],
            [2133,1.45],[2135,1.6],[2138,1.3],[2140,1.25],[2143,1.4],[2145,1.55],[2148,1.2],[2150,1.19],[2153,1.3],
            [2155,1.45],[2158,1.2],[2160,1.15],[2163,1.25],[2165,1.3],[2168,1.15],[2170,1.15],[2175,1.22],[2180,1.2],
            [2184,1.35],[2188,1.28],[2192,1.4],[2196,1.45],[2200,1.5],[2205,1.55],[2210,1.52],[2215,1.48],[2218,1.4],
            [2222,1.28],[2226,1.42],[2230,1.52],[2235,1.58],[2240,1.62],[2250,1.64],[2260,1.63],[2270,1.58],
            [2280,1.52],[2290,1.49],[2300,1.45],[2320,1.38],[2340,1.3],[2360,1.22],[2375,1.15],[2380,1.11],
            [2384,1.02],[2388,0.9],[2392,0.72],[2396,0.63],[2400,0.6],[2413,0.55],[2430,0.51],[2457,0.45],
            [2480,0.41],[2502,0.37],[2525,0.34],[2546,0.31],[2575,0.28],[2600,0.25],[2640,0.22],[2679,0.19],
            [2720,0.17],[2768,0.15],[2810,0.13],[2857,0.11],[2900,0.09],[2946,0.07],[2980,0.06],[3020,0.05]
        ];

        // ---- styling / layout ----
        const PAGE_W = 3825;
        const PLOT_RIGHT = 3003;
        const PAD_TOP = 60;
        const AX_BLUE = '#0072BD';
        const DARK = '#262626';
        const FONT = "'DejaVu Sans', sans-serif";
        const C = {
            blue: '#0000FF', light: '#ADD8E6', orange: '#FFA500', brown: '#A52A2A',
            green: '#008000', red: '#FF0000', black: '#000000'
        };

        const pts = arr => arr.map(p => ({ x: p[0], y: p[1] }));

        function lineSet(data, color, width, order) {
            return {
                data: pts(data), borderColor: color, borderWidth: width, pointRadius: 0,
                fill: false, tension: 0, borderJoinStyle: 'round', order: order
            };
        }

        function flagSet(data, color, order) {
            return {
                data: pts(data), showLine: false, pointStyle: 'crossRot', pointRadius: 13,
                pointBorderWidth: 5, borderColor: color, backgroundColor: color, order: order
            };
        }

        function makePanel(cfg) {
            const canvas = document.getElementById(cfg.id);
            const top = cfg.areaTop - PAD_TOP;
            const height = cfg.areaBottom - top + cfg.xAxisH;
            canvas.width = PAGE_W;
            canvas.height = height;
            canvas.style.top = top + 'px';
            canvas.style.width = PAGE_W + 'px';
            canvas.style.height = height + 'px';

            // inward tick marks, right frame line, shading and the key box
            const deco = {
                id: 'deco',
                beforeDatasetsDraw(chart) {
                    const { ctx, chartArea: a, scales: { x, y } } = chart;
                    ctx.save();
                    ctx.lineWidth = 2.5;
                    ctx.strokeStyle = DARK;
                    x.ticks.forEach(t => {
                        const px = x.getPixelForValue(t.value);
                        ctx.beginPath(); ctx.moveTo(px, a.bottom); ctx.lineTo(px, a.bottom - 27); ctx.stroke();
                    });
                    ctx.strokeStyle = AX_BLUE;
                    y.ticks.forEach(t => {
                        const py = y.getPixelForValue(t.value);
                        ctx.beginPath(); ctx.moveTo(a.left, py); ctx.lineTo(a.left + 27, py); ctx.stroke();
                    });
                    ctx.beginPath(); ctx.moveTo(a.right, a.top); ctx.lineTo(a.right, a.bottom); ctx.stroke();
                    ctx.restore();
                },
                afterDatasetsDraw(chart) {
                    const { ctx, chartArea: a, scales: { x, y } } = chart;
                    ctx.save();
                    if (cfg.shade) {
                        ctx.fillStyle = 'rgba(255, 255, 0, 0.15)';
                        const y0 = cfg.shade.band ? y.getPixelForValue(cfg.shade.band[1]) : a.top;
                        const y1 = cfg.shade.band ? y.getPixelForValue(cfg.shade.band[0]) : a.bottom;
                        cfg.shade.spans.forEach(s => {
                            const x0 = x.getPixelForValue(s[0]);
                            const x1 = x.getPixelForValue(s[1]);
                            ctx.fillRect(x0, y0, x1 - x0, y1 - y0);
                        });
                    }
                    const k = cfg.key;
                    ctx.font = '39px ' + FONT;
                    ctx.textBaseline = 'middle';
                    ctx.textAlign = 'left';
                    k.items.forEach((it, i) => {
                        const ry = k.rows[i] - top;
                        ctx.strokeStyle = it.color;
                        ctx.lineWidth = it.width;
                        ctx.beginPath(); ctx.moveTo(k.x0, ry); ctx.lineTo(k.x1, ry); ctx.stroke();
                        ctx.fillStyle = it.textColor || C.black;
                        ctx.fillText(it.text, k.tx, ry + 2);
                    });
                    ctx.restore();
                }
            };

            return new Chart(canvas.getContext('2d'), {
                type: 'line',
                data: { datasets: cfg.datasets },
                options: {
                    responsive: false,
                    animation: false,
                    devicePixelRatio: 1,
                    layout: { padding: { top: PAD_TOP, right: PAGE_W - PLOT_RIGHT, left: 0, bottom: 0 } },
                    plugins: { legend: { display: false }, tooltip: { enabled: false } },
                    scales: {
                        x: {
                            type: 'linear',
                            min: cfg.xRange[0],
                            max: cfg.xRange[1],
                            afterFit: s => { s.height = cfg.xAxisH; },
                            afterBuildTicks: s => { s.ticks = cfg.xTicks.map(v => ({ value: v })); },
                            grid: { display: false, drawTicks: false },
                            border: { display: true, color: DARK, width: 2.5 },
                            ticks: {
                                color: DARK, font: { family: FONT, size: 38 }, padding: 27,
                                maxRotation: 0, autoSkip: false, callback: v => String(v)
                            },
                            title: {
                                display: true, text: cfg.xTitle, color: DARK,
                                font: { family: FONT, size: 46 }, padding: { top: 0, bottom: 0 }
                            }
                        },
                        y: {
                            type: 'linear',
                            min: cfg.yRange[0],
                            max: cfg.yRange[1],
                            afterFit: s => { s.width = 375; },
                            afterBuildTicks: s => { s.ticks = cfg.yTicks.map(v => ({ value: v })); },
                            grid: { display: false, drawTicks: false },
                            border: { display: true, color: AX_BLUE, width: 2.5 },
                            ticks: {
                                color: AX_BLUE, font: { family: FONT, size: 38 }, padding: 29,
                                autoSkip: false, callback: v => String(v)
                            },
                            title: {
                                display: true, text: cfg.yTitle, color: AX_BLUE,
                                font: { family: FONT, size: 48 }, padding: { top: cfg.yTitleX - 28.8, bottom: 0 }
                            }
                        }
                    }
                },
                plugins: [deco]
            });
        }

        const utcTitle = 'UTC hours on 20250426';
        const wnTitle = 'Wavenumber, cm\u207B\u00B9';
        const radTitle = 'Mean Radiance, mW/(m\u00B2 sr cm\u207B\u00B9)';

        // panel 1
        makePanel({
            id: 'p1', areaTop: 296, areaBottom: 1203, xAxisH: 143,
            xRange: [0, 24], yRange: [170, 305], xTicks: hourTicks, yTicks: btTicksWide,
            xTitle: utcTitle, yTitle: 'AERI 985-900 cm\u207B\u00B9 (Window) BT', yTitleX: 219,
            shade: { spans: shadeHours },
            datasets: [flagSet(flag985, C.blue, 0), lineSet(bt985, C.blue, 8, 1)],
            key: {
                x0: 610, x1: 844, tx: 869, rows: [875, 942, 1010, 1078],
                items: [
                    { text: '85\u00B0 WRT Nadir (No data file)', color: C.brown, width: 7, textColor: C.red },
                    { text: '95\u00B0 WRT Nadir (No data file)', color: C.orange, width: 7, textColor: C.red },
                    { text: '125\u00B0 WRT Nadir (No data file)', color: C.green, width: 7, textColor: C.red },
                    { text: '180\u00B0 WRT Nadir', color: C.blue, width: 7 }
                ]
            }
        });

        // panel 2
        makePanel({
            id: 'p2', areaTop: 1421, areaBottom: 2328, xAxisH: 143,
            xRange: [0, 24], yRange: [170, 305], xTicks: hourTicks, yTicks: btTicksWide,
            xTitle: utcTitle, yTitle: 'Zenith BTs, K', yTitleX: 219,
            shade: { spans: shadeHours },
            datasets: [
                flagSet(flag2510, C.light, 0),
                lineSet(bt2510, C.light, 4, 1),
                lineSet(bt985, C.blue, 8, 2)
            ],
            key: {
                x0: 595, x1: 829, tx: 853, rows: [2178, 2243],
                items: [
                    { text: 'AERI 985-900 cm\u207B\u00B9 (Window)', color: C.blue, width: 7 },
                    { text: 'AERI 2510-2515 cm\u207B\u00B9 (Window)', color: C.light, width: 3.5 }
                ]
            }
        });

        // panel 3
        makePanel({
            id: 'p3', areaTop: 2546, areaBottom: 3453, xAxisH: 143,
            xRange: [0, 24], yRange: [276.8, 296.8], xTicks: hourTicks, yTicks: btTicksNarrow,
            xTitle: utcTitle, yTitle: 'Zenith BTs, K', yTitleX: 218,
            shade: { spans: shadeHours, band: shadeBT },
            datasets: [
                flagSet(flag2282, C.light, 0),
                flagSet(flag2295, C.brown, 1),
                lineSet(bt2282, C.light, 3, 2),
                lineSet(bt2295, C.brown, 3.5, 3),
                lineSet(bt700, C.blue, 6, 4),
                lineSet(bt675, C.orange, 7, 5)
            ],
            key: {
                x0: 594, x1: 829, tx: 853, rows: [2672, 2739, 2807, 2874],
                items: [
                    { text: 'AERI 675-680 cm\u207B\u00B9 (Surf Air)', color: C.orange, width: 7 },
                    { text: 'AERI 700-705 cm\u207B\u00B9', color: C.blue, width: 7 },
                    { text: 'AERI 2295-2300 cm\u207B\u00B9 (Surf Air)', color: C.brown, width: 3.5 },
                    { text: 'AERI 2282-2287 cm\u207B\u00B9', color: C.light, width: 3 }
                ]
            }
        });

        // panel 4
        makePanel({
            id: 'p4', areaTop: 3670, areaBottom: 4578, xAxisH: 150,
            xRange: [520, 1800], yRange: [2, 141], xTicks: wnTicksLow, yTicks: radTicksLow,
            xTitle: wnTitle, yTitle: radTitle, yTitleX: 220,
            datasets: [lineSet(radCloudyLow, C.red, 4, 0), lineSet(radAllLow, C.black, 4, 1)],
            key: {
                x0: 1830, x1: 2065, tx: 2088, rows: [3737, 3793],
                items: [
                    { text: 'Mean Radiance 0 to 24h UTC 20250426', color: C.black, width: 4 },
                    { text: '... cloudy', color: C.red, width: 4 }
                ]
            }
        });

        // panel 5
        makePanel({
            id: 'p5', areaTop: 4795, areaBottom: 5704, xAxisH: 150,
            xRange: [1800, 3020], yRange: [-0.37, 9.07], xTicks: wnTicksHigh, yTicks: radTicksHigh,
            xTitle: wnTitle, yTitle: radTitle, yTitleX: 267,
            datasets: [lineSet(radCloudyHigh, C.red, 3.5, 0), lineSet(radAllHigh, C.black, 3.5, 1)],
            key: {
                x0: 1830, x1: 2065, tx: 2088, rows: [4862, 4918],
                items: [
                    { text: 'Mean Radiance 0 to 24h UTC 20250426', color: C.black, width: 4 },
                    { text: '... cloudy', color: C.red, width: 4 }
                ]
            }
        });
    </script>
</body>
</html>
